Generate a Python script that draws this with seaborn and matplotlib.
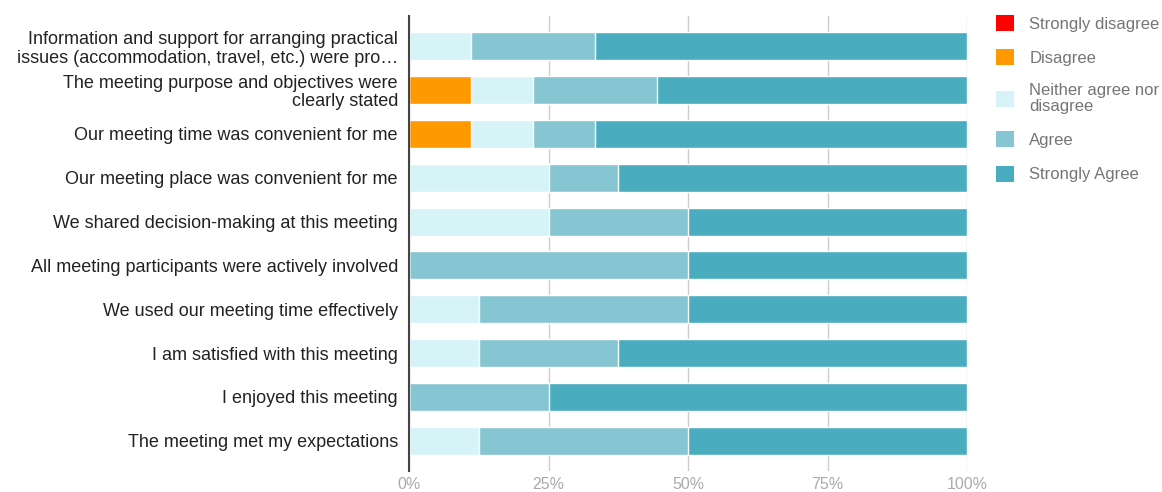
import matplotlib
matplotlib.use("Agg")
import matplotlib.pyplot as plt
import seaborn as sns
import numpy as np
import pandas as pd
from matplotlib.patches import Patch

questions = [
    "Information and support for arranging practical\nissues (accommodation, travel, etc.) were pro\u2026",
    "The meeting purpose and objectives were\nclearly stated",
    "Our meeting time was convenient for me",
    "Our meeting place was convenient for me",
    "We shared decision-making at this meeting",
    "All meeting participants were actively involved",
    "We used our meeting time effectively",
    "I am satisfied with this meeting",
    "I enjoyed this meeting",
    "The meeting met my expectations",
]
categories = ["Strongly disagree", "Disagree", "Neither agree nor\ndisagree", "Agree", "Strongly Agree"]
strongly_disagree = [0, 0, 0, 0, 0, 0, 0, 0, 0, 0]
disagree = [0, 11.1, 11.1, 0, 0, 0, 0, 0, 0, 0]
neither = [11.1, 11.1, 11.1, 25, 25, 0, 12.5, 12.5, 0, 12.5]
agree = [22.2, 22.2, 11.1, 12.5, 25, 50, 37.5, 25, 25, 37.5]
strongly_agree = [66.7, 55.6, 66.7, 62.5, 50, 50, 50, 62.5, 75, 50]
colors = ["#ff0000", "#ff9900", "#d6f3f8", "#86c6d2", "#4aacbf"]
xticks = [0, 25, 50, 75, 100]
xticklabels = ["0%", "25%", "50%", "75%", "100%"]

sns.set_theme(style="white")
plt.rcParams["font.family"] = ["Liberation Sans", "DejaVu Sans"]

series = [strongly_disagree, disagree, neither, agree, strongly_agree]
cum = np.cumsum(np.array(series, dtype=float), axis=0)
cum[-1] = 100.0

fig = plt.figure(figsize=(11.62, 4.92), dpi=100)
ax = fig.add_axes([409 / 1162, 1 - 471 / 492, (967 - 409) / 1162, (471 - 16) / 492])

for i in range(len(series) - 1, -1, -1):
    df = pd.DataFrame({"q": questions, "v": cum[i]})
    sns.barplot(data=df, x="v", y="q", orient="h", color=colors[i], width=0.64,
                saturation=1, ax=ax, order=questions, zorder=3)

ax.set_xlim(0, 100)
ax.set_ylim(9.69, -0.69)
ax.set_xticks(xticks)
ax.set_xticklabels(xticklabels, color="#aaaaaa", fontsize=11.5)
ax.set_xlabel("")
ax.set_ylabel("")
ax.tick_params(axis="y", length=0, pad=8, labelsize=13.0, labelcolor="#222222")
ax.tick_params(axis="x", length=0, pad=4)
for lab in ax.get_yticklabels():
    lab.set_linespacing(1.1)
ax.grid(axis="x", color="#cccccc", linewidth=1, zorder=0)
for s in ["top", "right", "bottom"]:
    ax.spines[s].set_visible(False)
ax.spines["left"].set_color("#444444")
ax.spines["left"].set_linewidth(1.5)
ax.spines["left"].set_zorder(5)

handles = [Patch(facecolor=c, edgecolor="none") for c in colors]
leg = fig.legend(handles, categories, loc="upper left", bbox_to_anchor=(996 / 1162, 1 - 15 / 492),
                 frameon=False, fontsize=12, handlelength=1.1, handleheight=1.1,
                 handletextpad=0.9, labelspacing=1.05, borderaxespad=0, borderpad=0)
for t in leg.get_texts():
    t.set_color("#757575")
    t.set_linespacing(1.05)

fig.savefig("out.png", dpi=100)
